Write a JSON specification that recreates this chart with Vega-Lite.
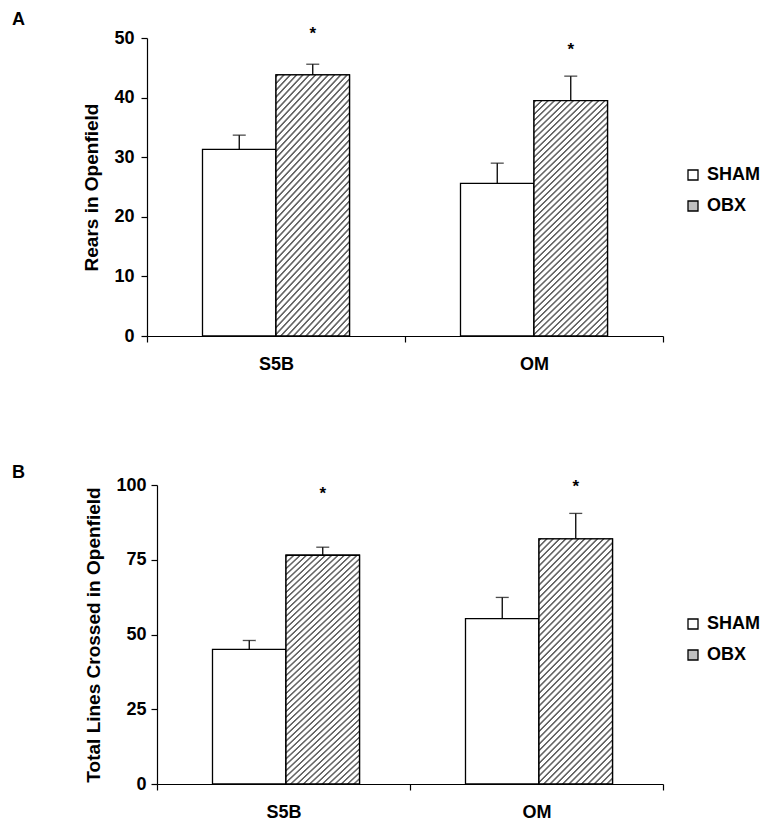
{
 "$schema": "https://vega.github.io/schema/vega-lite/v6.json",
 "padding": {"left": 12, "top": 10, "right": 5, "bottom": 5},
 "background": "white",
 "config": {
  "font": "Liberation Sans",
  "view": {"stroke": null},
  "axis": {"domainColor": "black", "domainWidth": 1.2, "tickColor": "black", "tickWidth": 1.2, "tickSize": 6, "labelFontSize": 18, "labelFontWeight": "bold", "labelColor": "black", "titleFontSize": 19, "titleFontWeight": "bold", "titleColor": "black", "grid": false},
  "legend": {"symbolType": "square", "symbolSize": 100, "symbolStrokeColor": "black", "symbolStrokeWidth": 1.2, "labelFontSize": 18, "labelFontWeight": "bold", "labelColor": "black", "labelOffset": 5, "rowPadding": 13, "padding": 0},
  "title": {"fontSize": 18, "fontWeight": "bold", "color": "black", "anchor": "start", "frame": "group"},
  "bar": {"stroke": "black", "strokeWidth": 1.3, "fill": {"gradient": "linear", "x1": 0, "y1": 0, "x2": 0.36, "y2": 1.19, "stops": [
{"offset":0,"color":"#fff"},{"offset":0.003,"color":"#666"},{"offset":0.007,"color":"#666"},{"offset":0.01,"color":"#fff"},
{"offset":0.02,"color":"#fff"},{"offset":0.023,"color":"#666"},{"offset":0.027,"color":"#666"},{"offset":0.03,"color":"#fff"},
{"offset":0.04,"color":"#fff"},{"offset":0.043,"color":"#666"},{"offset":0.047,"color":"#666"},{"offset":0.05,"color":"#fff"},
{"offset":0.06,"color":"#fff"},{"offset":0.063,"color":"#666"},{"offset":0.067,"color":"#666"},{"offset":0.07,"color":"#fff"},
{"offset":0.08,"color":"#fff"},{"offset":0.083,"color":"#666"},{"offset":0.087,"color":"#666"},{"offset":0.09,"color":"#fff"},
{"offset":0.1,"color":"#fff"},{"offset":0.103,"color":"#666"},{"offset":0.107,"color":"#666"},{"offset":0.11,"color":"#fff"},
{"offset":0.12,"color":"#fff"},{"offset":0.123,"color":"#666"},{"offset":0.127,"color":"#666"},{"offset":0.13,"color":"#fff"},
{"offset":0.14,"color":"#fff"},{"offset":0.143,"color":"#666"},{"offset":0.147,"color":"#666"},{"offset":0.15,"color":"#fff"},
{"offset":0.16,"color":"#fff"},{"offset":0.163,"color":"#666"},{"offset":0.167,"color":"#666"},{"offset":0.17,"color":"#fff"},
{"offset":0.18,"color":"#fff"},{"offset":0.183,"color":"#666"},{"offset":0.187,"color":"#666"},{"offset":0.19,"color":"#fff"},
{"offset":0.2,"color":"#fff"},{"offset":0.203,"color":"#666"},{"offset":0.207,"color":"#666"},{"offset":0.21,"color":"#fff"},
{"offset":0.22,"color":"#fff"},{"offset":0.223,"color":"#666"},{"offset":0.227,"color":"#666"},{"offset":0.23,"color":"#fff"},
{"offset":0.24,"color":"#fff"},{"offset":0.243,"color":"#666"},{"offset":0.247,"color":"#666"},{"offset":0.25,"color":"#fff"},
{"offset":0.26,"color":"#fff"},{"offset":0.263,"color":"#666"},{"offset":0.267,"color":"#666"},{"offset":0.27,"color":"#fff"},
{"offset":0.28,"color":"#fff"},{"offset":0.283,"color":"#666"},{"offset":0.287,"color":"#666"},{"offset":0.29,"color":"#fff"},
{"offset":0.3,"color":"#fff"},{"offset":0.303,"color":"#666"},{"offset":0.307,"color":"#666"},{"offset":0.31,"color":"#fff"},
{"offset":0.32,"color":"#fff"},{"offset":0.323,"color":"#666"},{"offset":0.327,"color":"#666"},{"offset":0.33,"color":"#fff"},
{"offset":0.34,"color":"#fff"},{"offset":0.343,"color":"#666"},{"offset":0.347,"color":"#666"},{"offset":0.35,"color":"#fff"},
{"offset":0.36,"color":"#fff"},{"offset":0.363,"color":"#666"},{"offset":0.367,"color":"#666"},{"offset":0.37,"color":"#fff"},
{"offset":0.38,"color":"#fff"},{"offset":0.383,"color":"#666"},{"offset":0.387,"color":"#666"},{"offset":0.39,"color":"#fff"},
{"offset":0.4,"color":"#fff"},{"offset":0.403,"color":"#666"},{"offset":0.407,"color":"#666"},{"offset":0.41,"color":"#fff"},
{"offset":0.42,"color":"#fff"},{"offset":0.423,"color":"#666"},{"offset":0.427,"color":"#666"},{"offset":0.43,"color":"#fff"},
{"offset":0.44,"color":"#fff"},{"offset":0.443,"color":"#666"},{"offset":0.447,"color":"#666"},{"offset":0.45,"color":"#fff"},
{"offset":0.46,"color":"#fff"},{"offset":0.463,"color":"#666"},{"offset":0.467,"color":"#666"},{"offset":0.47,"color":"#fff"},
{"offset":0.48,"color":"#fff"},{"offset":0.483,"color":"#666"},{"offset":0.487,"color":"#666"},{"offset":0.49,"color":"#fff"},
{"offset":0.5,"color":"#fff"},{"offset":0.503,"color":"#666"},{"offset":0.507,"color":"#666"},{"offset":0.51,"color":"#fff"},
{"offset":0.52,"color":"#fff"},{"offset":0.523,"color":"#666"},{"offset":0.527,"color":"#666"},{"offset":0.53,"color":"#fff"},
{"offset":0.54,"color":"#fff"},{"offset":0.543,"color":"#666"},{"offset":0.547,"color":"#666"},{"offset":0.55,"color":"#fff"},
{"offset":0.56,"color":"#fff"},{"offset":0.563,"color":"#666"},{"offset":0.567,"color":"#666"},{"offset":0.57,"color":"#fff"},
{"offset":0.58,"color":"#fff"},{"offset":0.583,"color":"#666"},{"offset":0.587,"color":"#666"},{"offset":0.59,"color":"#fff"},
{"offset":0.6,"color":"#fff"},{"offset":0.603,"color":"#666"},{"offset":0.607,"color":"#666"},{"offset":0.61,"color":"#fff"},
{"offset":0.62,"color":"#fff"},{"offset":0.623,"color":"#666"},{"offset":0.627,"color":"#666"},{"offset":0.63,"color":"#fff"},
{"offset":0.64,"color":"#fff"},{"offset":0.643,"color":"#666"},{"offset":0.647,"color":"#666"},{"offset":0.65,"color":"#fff"},
{"offset":0.66,"color":"#fff"},{"offset":0.663,"color":"#666"},{"offset":0.667,"color":"#666"},{"offset":0.67,"color":"#fff"},
{"offset":0.68,"color":"#fff"},{"offset":0.683,"color":"#666"},{"offset":0.687,"color":"#666"},{"offset":0.69,"color":"#fff"},
{"offset":0.7,"color":"#fff"},{"offset":0.703,"color":"#666"},{"offset":0.707,"color":"#666"},{"offset":0.71,"color":"#fff"},
{"offset":0.72,"color":"#fff"},{"offset":0.723,"color":"#666"},{"offset":0.727,"color":"#666"},{"offset":0.73,"color":"#fff"},
{"offset":0.74,"color":"#fff"},{"offset":0.743,"color":"#666"},{"offset":0.747,"color":"#666"},{"offset":0.75,"color":"#fff"},
{"offset":0.76,"color":"#fff"},{"offset":0.763,"color":"#666"},{"offset":0.767,"color":"#666"},{"offset":0.77,"color":"#fff"},
{"offset":0.78,"color":"#fff"},{"offset":0.783,"color":"#666"},{"offset":0.787,"color":"#666"},{"offset":0.79,"color":"#fff"},
{"offset":0.8,"color":"#fff"},{"offset":0.803,"color":"#666"},{"offset":0.807,"color":"#666"},{"offset":0.81,"color":"#fff"},
{"offset":0.82,"color":"#fff"},{"offset":0.823,"color":"#666"},{"offset":0.827,"color":"#666"},{"offset":0.83,"color":"#fff"},
{"offset":0.84,"color":"#fff"},{"offset":0.843,"color":"#666"},{"offset":0.847,"color":"#666"},{"offset":0.85,"color":"#fff"},
{"offset":0.86,"color":"#fff"},{"offset":0.863,"color":"#666"},{"offset":0.867,"color":"#666"},{"offset":0.87,"color":"#fff"},
{"offset":0.88,"color":"#fff"},{"offset":0.883,"color":"#666"},{"offset":0.887,"color":"#666"},{"offset":0.89,"color":"#fff"},
{"offset":0.9,"color":"#fff"},{"offset":0.903,"color":"#666"},{"offset":0.907,"color":"#666"},{"offset":0.91,"color":"#fff"},
{"offset":0.92,"color":"#fff"},{"offset":0.923,"color":"#666"},{"offset":0.927,"color":"#666"},{"offset":0.93,"color":"#fff"},
{"offset":0.94,"color":"#fff"},{"offset":0.943,"color":"#666"},{"offset":0.947,"color":"#666"},{"offset":0.95,"color":"#fff"},
{"offset":0.96,"color":"#fff"},{"offset":0.963,"color":"#666"},{"offset":0.967,"color":"#666"},{"offset":0.97,"color":"#fff"},
{"offset":0.98,"color":"#fff"},{"offset":0.983,"color":"#666"},{"offset":0.987,"color":"#666"},{"offset":0.99,"color":"#fff"},
{"offset":1,"color":"#fff"}
  ]}}
 },
 "spacing": 91,
 "resolve": {"legend": {"fill": "independent"}},
 "datasets": {
  "openfield": [
   {"panel": "A", "site": "S5B", "group": "SHAM", "mean": 31.3, "hi": 33.7},
   {"panel": "A", "site": "S5B", "group": "OBX", "mean": 43.8, "hi": 45.6, "star": 49.9},
   {"panel": "A", "site": "OM", "group": "SHAM", "mean": 25.6, "hi": 29.0},
   {"panel": "A", "site": "OM", "group": "OBX", "mean": 39.5, "hi": 43.6, "star": 47.2},
   {"panel": "B", "site": "S5B", "group": "SHAM", "mean": 45.0, "hi": 48.0},
   {"panel": "B", "site": "S5B", "group": "OBX", "mean": 76.5, "hi": 79.2, "star": 95.2},
   {"panel": "B", "site": "OM", "group": "SHAM", "mean": 55.3, "hi": 62.4},
   {"panel": "B", "site": "OM", "group": "OBX", "mean": 82.0, "hi": 90.5, "star": 97.5}
  ]
 },
 "vconcat": [
  {
   "title": {"text": "A", "dx": -135, "offset": -4},
   "width": 516,
   "height": 298,
   "data": {"name": "openfield"},
   "transform": [{"filter": "datum.panel === 'A'"}],
   "encoding": {
    "x": {"field": "site", "type": "nominal", "sort": ["S5B", "OM"], "scale": {"paddingInner": 0, "paddingOuter": 0}, "axis": {"title": null, "labelAngle": 0, "tickBand": "extent", "labelPadding": 13}},
    "xOffset": {"field": "group", "type": "nominal", "sort": ["SHAM", "OBX"], "scale": {"paddingInner": 0, "paddingOuter": 0.755}}
   },
   "layer": [
    {"mark": {"type": "bar"}, "encoding": {
      "y": {"field": "mean", "type": "quantitative", "scale": {"domain": [0, 50], "nice": false}, "axis": {"title": "Rears in Openfield", "values": [0, 10, 20, 30, 40, 50], "titlePadding": 12, "labelPadding": 7}},
      "fill": {"field": "group", "type": "nominal", "sort": ["SHAM", "OBX"], "scale": {"domain": ["SHAM", "OBX"], "range": ["#ffffff", "#c0c0c0"]},
        "legend": {"title": null, "orient": "none", "legendX": 537, "legendY": 128}}
    }},
    {"transform": [{"filter": "datum.group === 'OBX'"}], "mark": {"type": "bar"}, "encoding": {"y": {"field": "mean", "type": "quantitative"}}},
    {"mark": {"type": "rule", "color": "black", "strokeWidth": 1.3}, "encoding": {"y": {"field": "mean", "type": "quantitative"}, "y2": {"field": "hi"}}},
    {"mark": {"type": "tick", "color": "black", "thickness": 1.3, "size": 13}, "encoding": {"y": {"field": "hi", "type": "quantitative"}}},
    {"transform": [{"filter": "isValid(datum.star)"}], "mark": {"type": "text", "text": "*", "fontSize": 17, "fontWeight": "bold", "baseline": "alphabetic", "color": "black"}, "encoding": {"y": {"field": "star", "type": "quantitative"}}}
   ]
  },
  {
   "title": {"text": "B", "dx": -135, "offset": -6},
   "width": 516,
   "height": 299,
   "data": {"name": "openfield"},
   "transform": [{"filter": "datum.panel === 'B'"}],
   "encoding": {
    "x": {"field": "site", "type": "nominal", "sort": ["S5B", "OM"], "scale": {"range": [10, 516], "paddingInner": 0, "paddingOuter": 0}, "axis": {"title": null, "labelAngle": 0, "tickBand": "extent", "labelPadding": 13}},
    "xOffset": {"field": "group", "type": "nominal", "sort": ["SHAM", "OBX"], "scale": {"paddingInner": 0, "paddingOuter": 0.733}}
   },
   "layer": [
    {"mark": {"type": "bar"}, "encoding": {
      "y": {"field": "mean", "type": "quantitative", "scale": {"domain": [0, 100], "nice": false}, "axis": {"title": "Total Lines Crossed in Openfield", "values": [0, 25, 50, 75, 100], "titlePadding": 12, "labelPadding": 5, "offset": -10}},
      "fill": {"field": "group", "type": "nominal", "sort": ["SHAM", "OBX"], "scale": {"domain": ["SHAM", "OBX"], "range": ["#ffffff", "#c0c0c0"]},
        "legend": {"title": null, "orient": "none", "legendX": 537, "legendY": 130}}
    }},
    {"transform": [{"filter": "datum.group === 'OBX'"}], "mark": {"type": "bar"}, "encoding": {"y": {"field": "mean", "type": "quantitative"}}},
    {"mark": {"type": "rule", "color": "black", "strokeWidth": 1.3}, "encoding": {"y": {"field": "mean", "type": "quantitative"}, "y2": {"field": "hi"}}},
    {"mark": {"type": "tick", "color": "black", "thickness": 1.3, "size": 13}, "encoding": {"y": {"field": "hi", "type": "quantitative"}}},
    {"transform": [{"filter": "isValid(datum.star)"}], "mark": {"type": "text", "text": "*", "fontSize": 17, "fontWeight": "bold", "baseline": "alphabetic", "color": "black"}, "encoding": {"y": {"field": "star", "type": "quantitative"}}}
   ]
  }
 ]
}
